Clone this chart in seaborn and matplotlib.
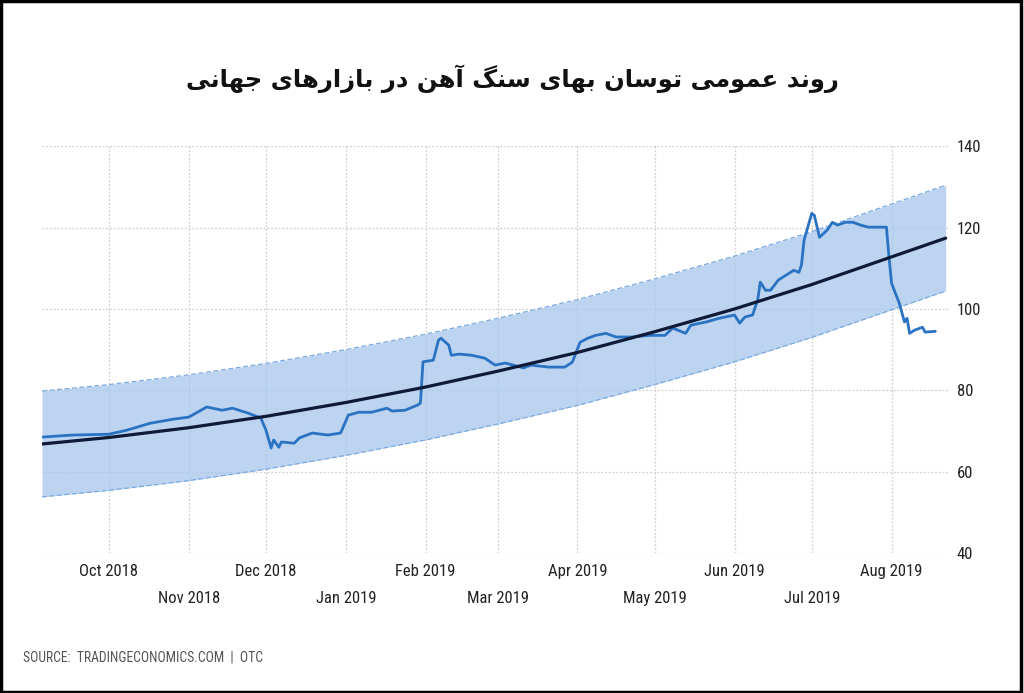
import pandas as pd
import matplotlib
matplotlib.use("Agg")
from matplotlib import pyplot as plt
from matplotlib import font_manager
from matplotlib.patches import Rectangle
import seaborn as sns

sns.set_theme(style="white")
# 找一个窄体字体，没有就退回 DejaVu Sans
names = {f.name for f in font_manager.fontManager.ttflist}
narrow = [n for n in ['Liberation Sans Narrow', 'DejaVu Sans Condensed', 'Roboto Condensed'] if n in names]
plt.rcParams['font.family'] = narrow + ['DejaVu Sans']

# 数据
price_dates = ["2018-09-05", "2018-09-17", "2018-10-01", "2018-10-08", "2018-10-17", "2018-10-26",
               "2018-11-01", "2018-11-08", "2018-11-14", "2018-11-18", "2018-11-24", "2018-11-29",
               "2018-12-01", "2018-12-03", "2018-12-04", "2018-12-06", "2018-12-07", "2018-12-12",
               "2018-12-14", "2018-12-19", "2018-12-25", "2018-12-30", "2019-01-02", "2019-01-06",
               "2019-01-11", "2019-01-17", "2019-01-19", "2019-01-24", "2019-01-29", "2019-01-30",
               "2019-01-31", "2019-02-04", "2019-02-06", "2019-02-07", "2019-02-10", "2019-02-11",
               "2019-02-14", "2019-02-19", "2019-02-24", "2019-02-28", "2019-03-04", "2019-03-07",
               "2019-03-11", "2019-03-14", "2019-03-18", "2019-03-21", "2019-03-27", "2019-03-30",
               "2019-04-02", "2019-04-05", "2019-04-08", "2019-04-12", "2019-04-16", "2019-04-22",
               "2019-04-29", "2019-05-05", "2019-05-08", "2019-05-13", "2019-05-15", "2019-05-21",
               "2019-05-26", "2019-06-01", "2019-06-03", "2019-06-05", "2019-06-08", "2019-06-10",
               "2019-06-11", "2019-06-13", "2019-06-15", "2019-06-18", "2019-06-21", "2019-06-24",
               "2019-06-26", "2019-06-27", "2019-06-28", "2019-07-01", "2019-07-02", "2019-07-04",
               "2019-07-07", "2019-07-09", "2019-07-11", "2019-07-14", "2019-07-17", "2019-07-20",
               "2019-07-23", "2019-07-30", "2019-07-31", "2019-08-01", "2019-08-04", "2019-08-06",
               "2019-08-07", "2019-08-08", "2019-08-10", "2019-08-13", "2019-08-14", "2019-08-18"]
price = [68.5, 69.0, 69.2, 70.2, 71.9, 72.9,
         73.4, 75.9, 75.1, 75.6, 74.4, 73.2,
         70.2, 65.8, 67.8, 66.0, 67.3, 67.0,
         68.3, 69.5, 69.0, 69.5, 73.9, 74.6,
         74.6, 75.6, 74.9, 75.1, 76.4, 76.9,
         87.0, 87.4, 92.3, 92.8, 91.1, 88.6,
         88.9, 88.6, 87.9, 86.2, 86.7, 86.2,
         85.5, 86.2, 85.9, 85.7, 85.7, 86.9,
         91.8, 92.8, 93.5, 94.0, 93.1, 93.1,
         93.5, 93.5, 95.3, 94.0, 96.0, 96.8,
         97.7, 98.5, 96.5, 98.0, 98.5, 102.2,
         106.6, 104.6, 104.6, 107.1, 108.3, 109.5,
         109.0, 110.8, 116.9, 123.5, 123.0, 117.6,
         119.4, 121.3, 120.6, 121.3, 121.3, 120.6,
         120.1, 120.1, 112.7, 106.3, 101.4, 96.8,
         97.7, 94.0, 94.8, 95.5, 94.3, 94.5]

trend_dates = ["2018-09-05", "2018-10-01", "2018-11-01", "2018-12-01", "2019-01-01", "2019-02-01",
               "2019-03-01", "2019-04-01", "2019-05-01", "2019-06-01", "2019-07-01", "2019-08-01",
               "2019-08-22"]
trend = [66.8, 68.4, 70.8, 73.6, 77.0, 80.8, 84.7, 89.3, 94.4, 100.0, 106.0, 112.8, 117.4]
band_upper = [79.8, 81.4, 83.8, 86.6, 90.0, 93.8, 97.7, 102.3, 107.4, 113.0, 119.0, 125.8, 130.4]
band_lower = [53.8, 55.4, 57.8, 60.6, 64.0, 67.8, 71.7, 76.3, 81.4, 87.0, 93.0, 99.8, 104.4]

month_ticks = ["2018-10-01", "2018-11-01", "2018-12-01", "2019-01-01", "2019-02-01", "2019-03-01",
               "2019-04-01", "2019-05-01", "2019-06-01", "2019-07-01", "2019-08-01"]
month_labels = ["Oct 2018", "Nov 2018", "Dec 2018", "Jan 2019", "Feb 2019", "Mar 2019",
                "Apr 2019", "May 2019", "Jun 2019", "Jul 2019", "Aug 2019"]
y_ticks = [40, 60, 80, 100, 120, 140]

title = "روند عمومی توسان بهای سنگ آهن در بازارهای جهانی"
source = "SOURCE:  TRADINGECONOMICS.COM  |  OTC"

df = pd.DataFrame({"date": pd.to_datetime(price_dates), "price": price})
tr = pd.DataFrame({"date": pd.to_datetime(trend_dates), "trend": trend,
                   "upper": band_upper, "lower": band_lower})


# matplotlib 不做阿拉伯字母连写，这里手动转成表现形式并倒序
FORMS = {  # 孤立, 词尾, 词首, 词中
    'ا': ('\uFE8D', '\uFE8E', None, None), 'آ': ('\uFE81', '\uFE82', None, None),
    'ب': ('\uFE8F', '\uFE90', '\uFE91', '\uFE92'), 'ت': ('\uFE95', '\uFE96', '\uFE97', '\uFE98'),
    'ج': ('\uFE9D', '\uFE9E', '\uFE9F', '\uFEA0'), 'د': ('\uFEA9', '\uFEAA', None, None),
    'ر': ('\uFEAD', '\uFEAE', None, None), 'ز': ('\uFEAF', '\uFEB0', None, None),
    'س': ('\uFEB1', '\uFEB2', '\uFEB3', '\uFEB4'), 'ع': ('\uFEC9', '\uFECA', '\uFECB', '\uFECC'),
    'م': ('\uFEE1', '\uFEE2', '\uFEE3', '\uFEE4'), 'ن': ('\uFEE5', '\uFEE6', '\uFEE7', '\uFEE8'),
    'ه': ('\uFEE9', '\uFEEA', '\uFEEB', '\uFEEC'), 'و': ('\uFEED', '\uFEEE', None, None),
    'ی': ('\uFBFC', '\uFBFD', '\uFBFE', '\uFBFF'), 'گ': ('\uFB92', '\uFB93', '\uFB94', '\uFB95'),
}


def shape(s):
    out = []
    for i, c in enumerate(s):
        if c not in FORMS:
            out.append(c)
            continue
        prev = s[i - 1] if i > 0 else ''
        nxt = s[i + 1] if i < len(s) - 1 else ''
        join_prev = prev in FORMS and FORMS[prev][2] is not None
        join_next = FORMS[c][2] is not None and nxt in FORMS
        iso, fin, ini, med = FORMS[c]
        if join_prev and join_next:
            out.append(med)
        elif join_prev:
            out.append(fin)
        elif join_next:
            out.append(ini)
        else:
            out.append(iso)
    return ''.join(out)[::-1]


fig = plt.figure(figsize=(10.24, 6.93), dpi=100)
ax = fig.add_axes([0.041, 0.202, 0.885, 0.587])

ax.fill_between(tr["date"], tr["lower"], tr["upper"], color="#a9c8ec", alpha=0.78, lw=0)
ax.plot(tr["date"], tr["upper"], color="#7aaae0", lw=0.9, ls=(0, (4, 2)))
ax.plot(tr["date"], tr["lower"], color="#7aaae0", lw=0.9, ls=(0, (4, 2)))
sns.lineplot(data=df, x="date", y="price", ax=ax, color="#2a72c2", lw=2.0)
sns.lineplot(data=tr, x="date", y="trend", ax=ax, color="#0f1a36", lw=2.3)

ax.set_xlim(pd.Timestamp("2018-09-05"), pd.Timestamp("2019-08-23"))
ax.set_ylim(40, 140)
ax.set_xlabel("")
ax.set_ylabel("")

# 月份标签分两行：偶数放主刻度，奇数放次刻度
ticks = pd.to_datetime(month_ticks)
ax.set_xticks(ticks[::2])
ax.set_xticklabels(month_labels[::2])
ax.set_xticks(ticks[1::2], minor=True)
ax.set_xticklabels(month_labels[1::2], minor=True)
ax.tick_params(axis='x', which='major', length=0, pad=8, labelsize=12, colors="#222222")
ax.tick_params(axis='x', which='minor', length=0, pad=27, labelsize=12, colors="#222222")
ax.yaxis.tick_right()
ax.set_yticks(y_ticks)
ax.tick_params(axis='y', length=0, pad=6, labelsize=12, colors="#222222")

ax.grid(True, which='both', color="#cfcfcf", lw=0.9, ls=(0, (1.5, 1.5)))
for s in ax.spines.values():
    s.set_visible(False)

fig.text(0.5, 0.887, shape(title), ha="center", va="center", fontsize=17.5, fontweight="bold",
         color="#111111", family="DejaVu Sans")
fig.text(0.022, 0.051, source, ha="left", va="center", fontsize=9.8, color="#555555")

fig.patches.append(Rectangle((0.001, 0.002), 0.996, 0.996, transform=fig.transFigure,
                             fill=False, ec="black", lw=2.5))

fig.savefig("out.png", dpi=100)
